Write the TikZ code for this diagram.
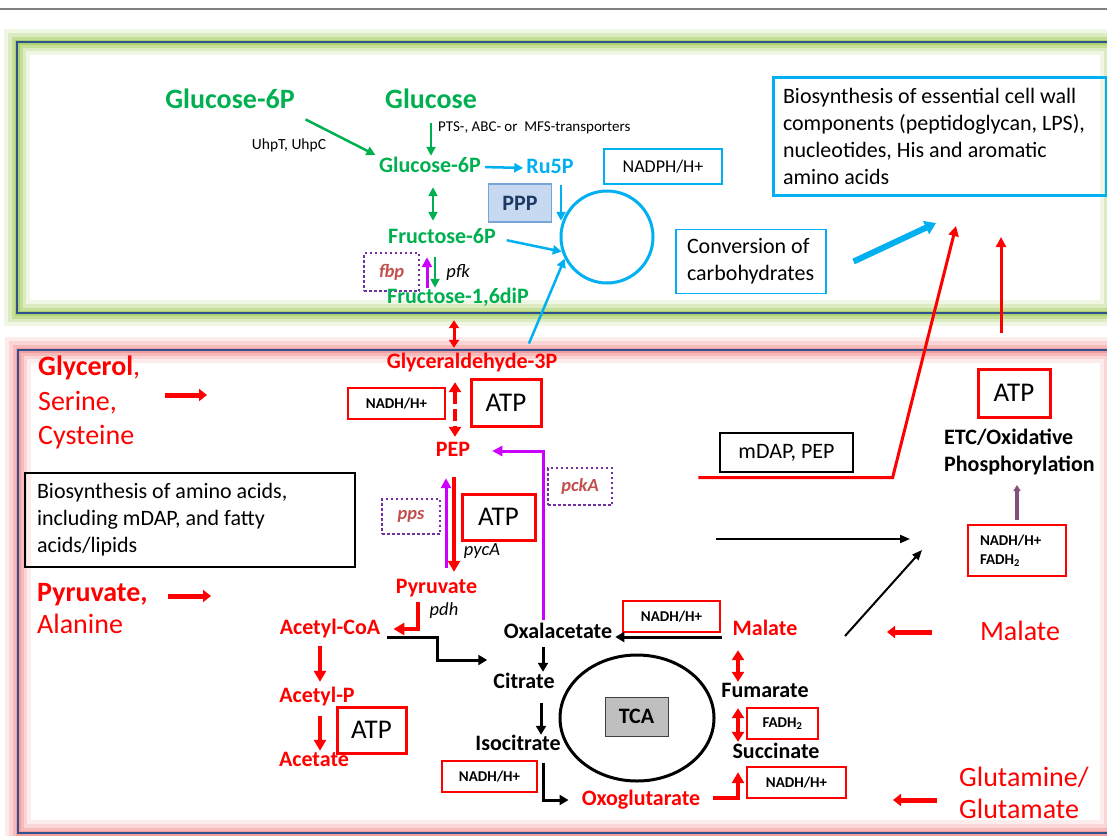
\documentclass[tikz,border=0pt]{standalone}
\usepackage{fontspec}
\setmainfont{Carlito}
\usetikzlibrary{arrows.meta,shapes.geometric}

\definecolor{grn}{RGB}{0,176,80}
\definecolor{cyn}{RGB}{0,176,240}
\definecolor{mag}{RGB}{204,0,255}
\definecolor{purp}{RGB}{112,48,160}
\definecolor{brn}{RGB}{192,80,77}
\definecolor{navy}{RGB}{47,82,143}
\definecolor{glowg}{RGB}{150,196,70}
\definecolor{glowr}{RGB}{238,130,130}
\definecolor{pppfill}{RGB}{198,217,241}
\definecolor{pppdraw}{RGB}{120,165,215}
\definecolor{ppptxt}{RGB}{31,56,100}
\definecolor{tcafill}{RGB}{191,191,191}
\definecolor{mauve}{RGB}{130,80,120}

\newcommand\fsXL{\fontsize{28}{32}\selectfont}
\newcommand\fsA{\fontsize{27}{32}\selectfont}
\newcommand\fsM{\fontsize{22}{27}\selectfont}
\newcommand\fsN{\fontsize{18}{22}\selectfont}
\newcommand\fsS{\fontsize{18.5}{22}\selectfont}
\newcommand\fsT{\fontsize{15}{19}\selectfont}

\begin{document}
\begin{tikzpicture}[x=1pt, y=1pt,
        every node/.style={inner sep=0pt, font=\fsM}
]
\tikzstyle{lblM}=[text height=15.5pt, text depth=4.5pt]
\tikzstyle{lblL}=[text height=20pt, text depth=5.5pt]
\tikzstyle{mgreen}=[lblM, text=grn, font=\fsM\bfseries]
\tikzstyle{mred}=[lblM, text=red, font=\fsM\bfseries]
\tikzstyle{mblack}=[lblM, text=black, font=\fsM\bfseries]
\tikzstyle{mblue}=[lblM, text=cyn, font=\fsM\bfseries]
\tikzstyle{gene}=[text height=13pt, text depth=3.5pt, font=\fsS\itshape]
\tikzstyle{enz}=[draw=purp, line width=2.5pt, dash pattern=on 2.5pt off 2.5pt, text=brn, font=\fsS\bfseries\itshape]
\tikzstyle{cofac}=[draw=red, line width=2pt, font=\fsT\bfseries]
\tikzstyle{atp}=[draw=red, line width=3pt, font=\fsA]
\tikzstyle{garr}=[draw=grn, line width=2.5pt, -{Triangle[length=9pt, width=9pt]}]
\tikzstyle{gdarr}=[draw=grn, line width=2.5pt, {Triangle[length=9pt, width=9pt]}-{Triangle[length=9pt, width=9pt]}]
\tikzstyle{barr}=[draw=cyn, line width=2.5pt, -{Triangle[length=9pt, width=9pt]}]
\tikzstyle{bigarr}=[draw=cyn, line width=6pt, -{Triangle[length=11pt, width=14pt]}]
\tikzstyle{marr}=[draw=mag, line width=3pt, -{Triangle[length=10pt, width=10pt]}]
\tikzstyle{rarr}=[draw=red, line width=4pt, -{Triangle[length=11pt, width=12pt]}]
\tikzstyle{rdarr}=[draw=red, line width=3pt, {Triangle[length=8pt, width=10pt]}-{Triangle[length=8pt, width=10pt]}]
\tikzstyle{rdarr2}=[draw=red, line width=4pt, {Triangle[length=10pt, width=12pt]}-{Triangle[length=10pt, width=12pt]}]
\tikzstyle{rdash}=[rdarr2, dash pattern=on 12pt off 5pt]
\tikzstyle{rthin}=[draw=red, line width=3pt, -{Triangle[length=10pt, width=10pt]}]
\tikzstyle{karr}=[draw=black, line width=3pt, -{Triangle[length=9pt, width=10pt]}]
\tikzstyle{thinarr}=[draw=black, line width=2pt, -{Triangle[length=10pt, width=8pt]}]
\tikzstyle{inarr}=[draw=red, line width=5pt, -{Triangle[length=8pt, width=12pt]}]

\useasboundingbox (0,0) rectangle (1107,-835);
\clip (0,0) rectangle (1107,-835);

% panels
\draw[gray, line width=2pt] (0,-9) -- (1107,-9);
\foreach \w/\o in {26/0.15, 18/0.22, 11/0.32, 5/0.5} {
    \draw[glowg, line width=\w pt, opacity=\o] (17,-42) rectangle (1113,-313);
    \draw[glowr, line width=\w pt, opacity=\o] (18,-350) rectangle (1113,-833);
}
\draw[navy, line width=2.5pt] (17,-42) rectangle (1113,-313);
\draw[navy, line width=2.5pt] (18,-350) rectangle (1113,-833);

% carbohydrates
    \node[lblL, text=grn, font=\fsXL\bfseries] (g6pout) at (230,-101) {Glucose-6P};
    \node[lblL, text=grn, font=\fsXL\bfseries] (glc) at (431,-101) {Glucose};
    \node[font=\fontsize{15.5}{18}\selectfont] (uhp) at (289,-145) {UhpT, UhpC};
    \node[font=\fontsize{15}{18}\selectfont, anchor=west] (pts) at (438,-128) {PTS-, ABC- or\ \ MFS-transporters};
    \node[mgreen] (g6p) at (430,-167) {Glucose-6P};
    \node[mblue] (ru5p) at (550,-168) {Ru5P};
    \node[draw=cyn, line width=2.5pt, minimum width=118pt, minimum height=35pt, font=\fsN] (nadph) at (663,-166.5) {NADPH/H+};
    \node[fill=pppfill, draw=pppdraw, line width=1.5pt, minimum width=63pt, minimum height=38pt, text=ppptxt, font=\fsM\bfseries] (ppp) at (520,-203) {PPP};
    \node[circle, draw=cyn, line width=3pt, minimum size=92pt] (ppc) at (607,-237) {};
    \node[mgreen] (f6p) at (442,-238) {Fructose-6P};
    \node[enz, minimum width=55pt, minimum height=38pt] (fbp) at (391.5,-272) {fbp};
    \node[gene] (pfk) at (458,-273) {pfk};
    \node[mgreen] (f16) at (458,-298) {Fructose-1,6diP};
    \node[draw=cyn, line width=1.2pt, minimum height=64pt, text width=128pt, inner xsep=11pt, align=flush left] (conv) at (751,-261.5) {Conversion of\\carbohydrates};
    \node[draw=cyn, line width=3pt, minimum height=118pt, text width=313pt, inner xsep=10pt, align=flush left] (cellwall) at (939.5,-136.5) {Biosynthesis of essential cell wall\\components (peptidoglycan, LPS),\\nucleotides, His and aromatic\\amino acids};
    \coordinate (wallA) at (956,-226);
    \coordinate (wallB) at (1001,-237);
    \coordinate (wallC) at (936,-223);
    \coordinate (atpup) at (1001,-333);

    \draw[garr, shorten <=12pt, shorten >=4pt] (g6pout.south east) -- (g6p.north west);
    \draw[garr, shorten <=9pt, shorten >=1pt] (glc.south) -- (glc.south |- g6p.north);
    \draw[barr, shorten <=4pt, shorten >=3pt] (g6p.east) -- (ru5p.west);
    \draw[barr, shorten <=7pt] ([xshift=11pt]ru5p.south) -- ([xshift=11pt]ru5p.south |- ppc.160);
    \draw[gdarr, shorten <=10pt, shorten >=7pt] ([xshift=3pt]g6p.south) -- ([xshift=3pt]g6p.south |- f6p.north);
    \draw[barr, shorten <=11pt] (f6p.east) -- (ppc.198);
    \draw[marr, shorten >=9pt] ([xshift=-15pt]f6p.south |- f16.north) -- ([xshift=-15pt]f6p.south);
    \draw[garr, shorten <=9pt] ([xshift=-7pt]f6p.south) -- ([xshift=-7pt]f6p.south |- f16.north);
    \draw[bigarr] ([xshift=27pt]conv.east) -- (wallC);

% glycolysis and TCA
    \node[text=red, font=\fontsize{28}{34.5}\selectfont, align=left, anchor=west] (glyc) at (38,-402.5) {\textbf{Glycerol},\\Serine,\\Cysteine};
    \node[mred] (g3p) at (472,-363) {Glyceraldehyde-3P};
    \node[cofac, minimum width=97pt, minimum height=31pt] (nadh1) at (396.5,-403.5) {NADH/H+};
    \node[atp, minimum width=70pt, minimum height=47pt] (atp1) at (506,-402.5) {ATP};
    \node[mred] (pep) at (453,-451) {PEP};
    \node[enz, minimum width=64pt, minimum height=37pt] (pcka) at (580,-486.5) {pckA};
    \node[enz, minimum width=58pt, minimum height=35pt] (pps) at (411,-516.5) {pps};
    \node[atp, minimum width=73pt, minimum height=46pt] (atp2) at (498.5,-517) {ATP};
    \node[gene] (pyca) at (482,-551) {pycA};
    \node[mred] (pyr) at (436.5,-588) {Pyruvate};
    \node[gene] (pdh) at (444,-611) {pdh};
    \node[mred] (acoa) at (330,-629) {Acetyl-CoA};
    \node[mred] (acp) at (317,-697) {Acetyl-P};
    \node[mred] (ace) at (314,-761) {Acetate};
    \node[atp, minimum width=69pt, minimum height=46pt] (atp3) at (371.5,-730) {ATP};
    \node[mblack] (oxa) at (558,-633) {Oxalacetate};
    \node[mblack] (cit) at (524,-683) {Citrate};
    \node[mblack] (iso) at (518,-745) {Isocitrate};
    \node[cofac, minimum width=95pt, minimum height=31pt] (nadh3) at (489.5,-776.5) {NADH/H+};
    \node[mred] (oxo) at (641,-800) {Oxoglutarate};
    \node[draw, ellipse, line width=3pt, minimum width=154pt, minimum height=126pt] (tcac) at (637,-718) {};
    \node[fill=tcafill, draw=darkgray, line width=1pt, minimum width=63pt, minimum height=39pt, font=\fsM\bfseries] (tca) at (636.5,-716.5) {TCA};
    \node[mred] (mal) at (765,-630) {Malate};
    \node[cofac, minimum width=97pt, minimum height=31pt] (nadh2) at (671.5,-616.5) {NADH/H+};
    \node[mblack] (fum) at (765,-692) {Fumarate};
    \node[cofac, minimum width=71pt, minimum height=31pt] (fadh) at (782.5,-723.5) {FADH\textsubscript{2}};
    \node[mblack] (suc) at (776,-753) {Succinate};
    \node[cofac, minimum width=99pt, minimum height=31pt] (nadh4) at (796.5,-782.5) {NADH/H+};
    \node[draw=black, line width=2pt, minimum height=94pt, text width=306pt, inner xsep=12pt, align=flush left] (aabio) at (190,-520) {Biosynthesis of amino acids,\\including mDAP, and fatty\\acids/lipids};
    \node[text=red, font=\fsXL, align=left, anchor=west] (pyrin) at (37,-609) {\textbf{Pyruvate,}\\Alanine};
    \node[draw=black, line width=1.2pt, minimum width=133pt, minimum height=39pt] (mdap) at (786.5,-452.5) {mDAP, PEP};
    \node[atp, minimum width=72pt, minimum height=48pt] (atp4) at (1014,-393) {ATP};
    \node[font=\fsM\bfseries, align=left, anchor=west] (etc) at (944,-452) {ETC/Oxidative\\Phosphorylation};
    \node[cofac, minimum height=51pt, text width=74pt, inner xsep=12pt, align=flush left] (nadh5) at (1017,-550.5) {NADH/H+\\FADH\textsubscript{2}};
    \node[lblL, text=red, font=\fsXL] (malin) at (1020,-633) {Malate};
    \node[text=red, font=\fsXL, align=left, anchor=west] (gluin) at (959,-793) {Glutamine/\\Glutamate};
    \coordinate (glycA) at (165,-395);
    \coordinate (glycB) at (207,-395);
    \coordinate (pyrA) at (168,-596);
    \coordinate (pyrB) at (211,-596);
    \coordinate (malA) at (932,-632);
    \coordinate (malB) at (887,-632);
    \coordinate (gluA) at (937,-800);
    \coordinate (gluB) at (893,-800);
    \coordinate (etcA) at (716,-539);
    \coordinate (etcB) at (910,-539);
    \coordinate (etcC) at (845,-636);
    \coordinate (etcD) at (922,-550);
    \coordinate (etcin) at (1017,-485);

    \draw[barr, shorten <=10pt] ([xshift=53pt]g3p.north) -- (ppc.207);
    \draw[rdarr, shorten <=12pt, shorten >=5pt] ([xshift=-4pt]f16.south) -- ([xshift=-4pt]f16.south |- g3p.north);
    \draw[rdash, shorten <=9pt, shorten >=4pt] ([xshift=2pt]pep.north |- g3p.south) -- ([xshift=2pt]pep.north);
    \draw[rarr, shorten <=16pt, shorten >=6pt] ([xshift=1pt]pep.south) -- ([xshift=1pt]pep.south |- pyr.north);
    \draw[marr, shorten <=10pt, shorten >=17pt] ([xshift=-7pt]pep.south |- pyr.north) -- ([xshift=-7pt]pep.south);
    \draw[marr, shorten <=3pt, shorten >=22pt] ([xshift=-15pt]oxa.north) |- (pep.east);
    \draw[rarr, shorten <=4pt, shorten >=13pt] ([xshift=-19pt]pyr.south) |- (acoa.east);
    \draw[karr, shorten <=7pt, shorten >=6pt] ([yshift=-8pt]acoa.east) -- ++(57,0) |- ([yshift=23pt]cit.west);
    \draw[karr, shorten <=4pt, shorten >=1pt] ([xshift=-15pt]oxa.south) -- ([xshift=-15pt]oxa.south |- cit.north);
    \draw[karr, shorten <=10pt] ([xshift=17pt]cit.south) -- ([xshift=17pt]cit.south |- iso.north);
    \draw[karr, shorten <=8pt, shorten >=13pt] ([xshift=25pt]iso.south) |- (oxo.west);
    \draw[rarr, shorten <=13pt, shorten >=9pt] ([yshift=2pt]oxo.east) -| ([xshift=-38pt]suc.south);
    \draw[rdarr2, shorten <=6pt, shorten >=1pt] ([xshift=-27pt]fum.south) -- ([xshift=-27pt]fum.south |- suc.north);
    \draw[rdarr2, shorten <=10pt] ([xshift=-27pt]mal.south) -- ([xshift=-27pt]mal.south |- fum.north);
    \draw[karr, shorten <=11pt, shorten >=3pt] ([yshift=-7pt]mal.west) -- ([yshift=-7pt]mal.west -| oxa.east);
    \draw[rarr, shorten <=7pt, shorten >=5pt] ([xshift=-10pt]acoa.south) -- ([xshift=-10pt]acoa.south |- acp.north);
    \draw[rarr, shorten <=9pt] ([xshift=-10pt]acoa.south |- acp.south) -- ([xshift=-10pt]acoa.south |- ace.north);
    \draw[rthin] ([xshift=-21pt, yshift=-5pt]mdap.south west) -- ([xshift=39pt, yshift=-5pt]mdap.south east) -- (wallA);
    \draw[rthin] (atpup) -- (wallB);
    \draw[inarr] (glycA) -- (glycB);
    \draw[inarr] (pyrA) -- (pyrB);
    \draw[inarr] (malA) -- (malB);
    \draw[inarr] (gluA) -- (gluB);
    \draw[thinarr] (etcA) -- (etcB);
    \draw[thinarr] (etcC) -- (etcD);
    \draw[draw=mauve, line width=4pt, -{Triangle[length=6pt, width=7pt]}, shorten <=4pt] (nadh5.north) -- (etcin);

\end{tikzpicture}
\end{document}
